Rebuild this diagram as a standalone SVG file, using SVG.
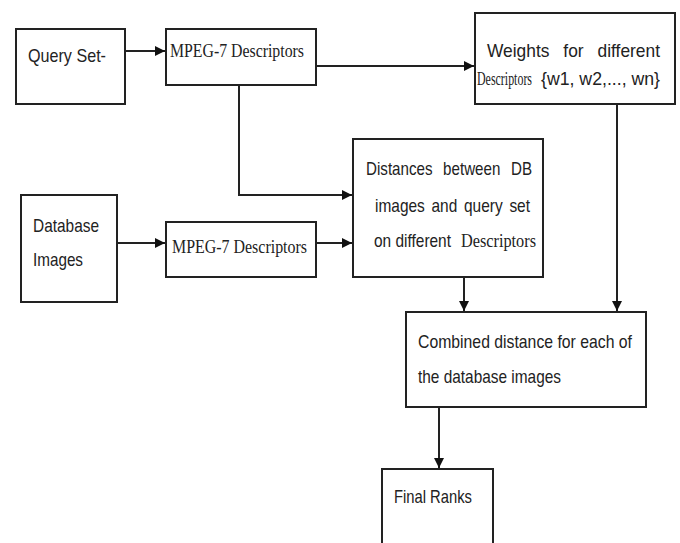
<svg xmlns="http://www.w3.org/2000/svg" width="680" height="543" viewBox="0 0 680 543">
<style>
.box{fill:#fff;stroke:#222;stroke-width:2}
.con{fill:none;stroke:#222;stroke-width:2}
.s{font-family:"Liberation Sans",Arial,sans-serif;font-size:19px;fill:#222}
.r{font-family:"Liberation Serif","Times New Roman",serif;font-size:19px;fill:#222}
</style>
<defs>
<marker id="ah" markerUnits="userSpaceOnUse" markerWidth="11" markerHeight="10" refX="10" refY="5" orient="auto">
<path d="M0,0 L10,5 L0,10 z" fill="#111"/>
</marker>
</defs>
<rect width="680" height="543" fill="#fff"/>
<g id="connectors">
<path class="con" d="M125,51 H165" marker-end="url(#ah)"/>
<path class="con" d="M316,66 H474" marker-end="url(#ah)"/>
<path class="con" d="M239,85 V195 H352" marker-end="url(#ah)"/>
<path class="con" d="M117,243 H165" marker-end="url(#ah)"/>
<path class="con" d="M316,243 H352" marker-end="url(#ah)"/>
<path class="con" d="M617,104 V311" marker-end="url(#ah)"/>
<path class="con" d="M464,277 V311" marker-end="url(#ah)"/>
<path class="con" d="M439,407 V468" marker-end="url(#ah)"/>
</g>
<g id="query-set">
<rect class="box" x="16" y="29" width="109" height="75"/>
<text class="s" x="28" y="62" textLength="78" lengthAdjust="spacingAndGlyphs">Query Set-</text>
</g>
<g id="mpeg7-query">
<rect class="box" x="166" y="29" width="150" height="56"/>
<text class="r" x="170" y="57" textLength="134" lengthAdjust="spacingAndGlyphs">MPEG-7 Descriptors</text>
</g>
<g id="weights">
<rect class="box" x="475" y="13" width="200" height="91"/>
<text class="s" x="487" y="57" font-size="17" textLength="173" lengthAdjust="spacingAndGlyphs" word-spacing="10">Weights for different</text>
<text class="r" x="477" y="85" font-size="13" textLength="55" lengthAdjust="spacingAndGlyphs">Descriptors</text>
<text class="s" x="541" y="85" font-size="16" textLength="119" lengthAdjust="spacingAndGlyphs">{w1, w2,..., wn}</text>
</g>
<g id="database-images">
<rect class="box" x="21" y="195" width="96" height="107"/>
<text class="s" x="33" y="232" textLength="66" lengthAdjust="spacingAndGlyphs">Database</text>
<text class="s" x="33" y="266" textLength="50" lengthAdjust="spacingAndGlyphs">Images</text>
</g>
<g id="mpeg7-db">
<rect class="box" x="166" y="222" width="150" height="55"/>
<text class="r" x="172" y="253" textLength="135" lengthAdjust="spacingAndGlyphs">MPEG-7 Descriptors</text>
</g>
<g id="distances">
<rect class="box" x="353" y="139" width="190" height="138"/>
<text class="s" x="366" y="175" font-size="17" textLength="166" lengthAdjust="spacingAndGlyphs" word-spacing="8">Distances between DB</text>
<text class="s" x="375" y="212" textLength="155" lengthAdjust="spacingAndGlyphs" word-spacing="3">images and query set</text>
<text class="s" x="374" y="247" font-size="16" textLength="77" lengthAdjust="spacingAndGlyphs">on different</text>
<text class="r" x="461" y="247" font-size="17" textLength="75" lengthAdjust="spacingAndGlyphs">Descriptors</text>
</g>
<g id="combined">
<rect class="box" x="406" y="312" width="240" height="95"/>
<text class="s" x="418" y="348" textLength="214" lengthAdjust="spacingAndGlyphs">Combined distance for each of</text>
<text class="s" x="418" y="383" textLength="143" lengthAdjust="spacingAndGlyphs">the database images</text>
</g>
<g id="final-ranks">
<path class="box" d="M382,545 V469 H493 V545"/>
<text class="s" x="394" y="503" textLength="78" lengthAdjust="spacingAndGlyphs">Final Ranks</text>
</g>
</svg>
